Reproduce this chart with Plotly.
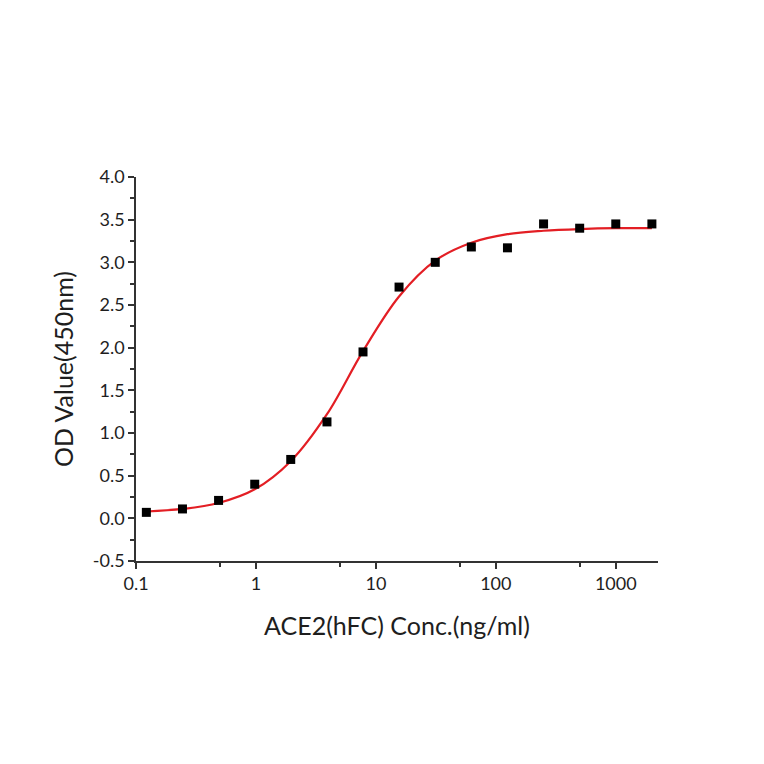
import plotly.graph_objects as go

# Data
conc = [0.122, 0.244, 0.488, 0.977, 1.95, 3.91, 7.81, 15.6, 31.25, 62.5, 125, 250, 500, 1000, 2000]
od = [0.07, 0.11, 0.21, 0.40, 0.69, 1.13, 1.95, 2.71, 3.00, 3.18, 3.17, 3.45, 3.40, 3.45, 3.45]

# Fitted curve (at the same concentrations)
fit_od = [0.08, 0.11, 0.18, 0.34, 0.67, 1.22, 1.96, 2.60, 3.02, 3.23, 3.33, 3.37, 3.39, 3.40, 3.40]

x_ticks = [0.1, 1, 10, 100, 1000]
x_labels = ["0.1", "1", "10", "100", "1000"]
y_ticks = [-0.5, 0, 0.5, 1, 1.5, 2, 2.5, 3, 3.5, 4]
y_labels = ["-0.5", "0.0", "0.5", "1.0", "1.5", "2.0", "2.5", "3.0", "3.5", "4.0"]

font = "Lato, 'Open Sans', sans-serif"

fig = go.Figure()

fig.add_trace(go.Scatter(
    x=conc, y=fit_od,
    mode="lines",
    line=dict(color="#e31e24", width=2.2, shape="spline", smoothing=1.0),
    showlegend=False,
))

fig.add_trace(go.Scatter(
    x=conc, y=od,
    mode="markers",
    marker=dict(symbol="square", size=9, color="black"),
    showlegend=False,
))

fig.update_layout(
    width=764, height=764,
    margin=dict(l=128, r=114, t=169, b=211),
    plot_bgcolor="white",
    paper_bgcolor="white",
    font=dict(family=font, color="#1e1e1e"),
)

fig.update_xaxes(
    type="log",
    range=[-1, 3.352],
    tickvals=x_ticks, ticktext=x_labels,
    ticks="outside", ticklen=6, tickwidth=1.5, tickcolor="#333333",
    minor=dict(tickvals=[0.5, 5, 50, 500], ticks="outside", ticklen=4, tickcolor="#333333"),
    showline=True, linecolor="#333333", linewidth=1.6,
    showgrid=False, zeroline=False,
    tickfont=dict(size=18),
    title=dict(text="ACE2(hFC) Conc.(ng/ml)", font=dict(size=25), standoff=24),
)

fig.update_yaxes(
    range=[-0.5, 4.0],
    tickvals=y_ticks, ticktext=y_labels,
    ticks="outside", ticklen=6, tickwidth=1.5, tickcolor="#333333",
    minor=dict(dtick=0.25, tick0=0, ticks="outside", ticklen=4, tickcolor="#333333"),
    showline=True, linecolor="#333333", linewidth=1.6,
    showgrid=False, zeroline=False,
    tickfont=dict(size=18),
    title=dict(text="OD Value(450nm)", font=dict(size=25), standoff=12),
)

fig.write_html("out.html")
